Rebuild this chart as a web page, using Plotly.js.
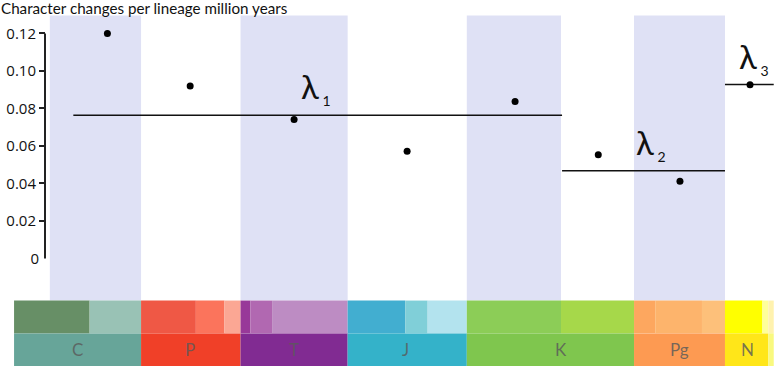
<!DOCTYPE html>
<html>
<head>
<meta charset="utf-8">
<script src="https://cdn.plot.ly/plotly-3.0.1.min.js"></script>
<style>html,body{margin:0;padding:0;background:#fff}#chart{width:775px;height:366px}</style>
</head>
<body>
<div id="chart"></div>
<script>
// ---- data (ages in Ma) ----
const pointAge  = [314.8, 275.7, 226.6, 173.2, 122.2, 82.9, 44.3, 11.2];
const pointRate = [0.120, 0.0919, 0.0741, 0.0571, 0.0837, 0.0553, 0.0412, 0.0926];

const lambdaNames = ['1', '2', '3'];
const lambdaStart = [330.9, 100.0, 23.03];
const lambdaEnd   = [100.0, 23.03, 0.0];
const lambdaRate  = [0.0763, 0.0467, 0.0927];
const lambdaLabelAge = [223.0, 64.6, 15.9];

const bandStart = [342.0, 251.902, 145.0, 66.0];
const bandEnd   = [298.9, 201.3, 100.5, 23.03];

const periodNames  = ['C', 'P', 'T', 'J', 'K', 'Pg', 'N', ''];
const periodStart  = [358.9, 298.9, 251.902, 201.3, 145.0, 66.0, 23.03, 2.58];
const periodEnd    = [298.9, 251.902, 201.3, 145.0, 66.0, 23.03, 2.58, 0.0];
const periodColors = ['#67A599', '#F04028', '#812B92', '#34B2C9', '#7FC64E', '#FD9A52', '#FFE619', '#F9F97F'];
const periodLabelAge = [329.1, 275.8, 226.6, 174.2, 100.5, 44.3, 12.6, 1.3];

const epochStart  = [358.9, 323.2, 298.9, 273.01, 259.51, 251.902, 247.2, 237.0, 201.3, 174.1, 163.5, 145.0, 100.5, 66.0, 56.0, 33.9, 23.03, 5.333, 2.58];
const epochEnd    = [323.2, 298.9, 273.01, 259.51, 251.902, 247.2, 237.0, 201.3, 174.1, 163.5, 145.0, 100.5, 66.0, 56.0, 33.9, 23.03, 5.333, 2.58, 0.0];
const epochColors = ['#678F66', '#99C2B5', '#EF5845', '#FB745C', '#FBA794', '#983999', '#B168B1', '#BD8CC3', '#42AED0', '#80CFD8', '#B3E3EE', '#8CCD57', '#A6D84A', '#FDA75F', '#FDB46C', '#FDC07A', '#FFFF00', '#FFFF99', '#FFF2AE'];

const yTicks = [0.02, 0.04, 0.06, 0.08, 0.10, 0.12];
const yTickText = ['0.02', '0.04', '0.06', '0.08', '0.10', '0.12'];
const yTitle = 'Character changes per lineage million years';

// ---- geometry in value space ----
const bandTop = 0.1295, bandBottom = -0.0225, rowSplit = -0.040, rowBottom = -0.0575;
const yRange = [-0.0574, 0.1378];
const xRange = [359.4, -0.6];
const axisPos = (45 - 13) / 762;

const shapes = [];
bandStart.forEach((s, i) => shapes.push({type: 'rect', xref: 'x', yref: 'y', x0: s, x1: bandEnd[i], y0: bandBottom, y1: bandTop,
  fillcolor: '#DFE1F5', line: {width: 0}, layer: 'below'}));
epochStart.forEach((s, i) => shapes.push({type: 'rect', xref: 'x', yref: 'y', x0: s, x1: epochEnd[i], y0: rowSplit, y1: bandBottom,
  fillcolor: epochColors[i], line: {width: 0}, layer: 'below'}));
periodStart.forEach((s, i) => shapes.push({type: 'rect', xref: 'x', yref: 'y', x0: s, x1: periodEnd[i], y0: rowBottom, y1: rowSplit,
  fillcolor: periodColors[i], line: {width: 0}, layer: 'below'}));
shapes.push({type: 'line', xref: 'paper', yref: 'y', x0: axisPos, x1: axisPos, y0: 0, y1: yTicks[yTicks.length - 1],
  line: {color: '#222', width: 2}});

const traces = [];
lambdaNames.forEach((n, i) => traces.push({type: 'scatter', mode: 'lines', x: [lambdaStart[i], lambdaEnd[i]], y: [lambdaRate[i], lambdaRate[i]],
  line: {color: '#111', width: 1.6}, hoverinfo: 'skip', showlegend: false}));
traces.push({type: 'scatter', mode: 'markers', x: pointAge, y: pointRate, marker: {color: '#000', size: 7}, showlegend: false});
traces.push({type: 'scatter', mode: 'markers', x: [pointAge[0]], y: [0], yaxis: 'y2', marker: {opacity: 0}, showlegend: false, hoverinfo: 'skip'});

const annotations = [];
lambdaNames.forEach((n, i) => annotations.push({xref: 'x', yref: 'y', x: lambdaLabelAge[i], y: lambdaRate[i], xanchor: 'left', yanchor: 'bottom',
  text: 'λ<sub><span style="font-size:14px"> ' + n + '</span></sub>', showarrow: false, yshift: 4, xshift: -3,
  font: {family: 'Lato, sans-serif', size: 33, color: '#111'}}));
periodNames.forEach((n, i) => { if (n) annotations.push({xref: 'x', yref: 'y', x: periodLabelAge[i], y: (rowSplit + rowBottom) / 2,
  text: n, showarrow: false, xanchor: 'center', yanchor: 'middle', font: {family: 'Lato, sans-serif', size: 17, color: 'rgba(90,90,90,0.82)'}}); });

const layout = {
  width: 775, height: 366,
  margin: {l: 13, r: 0, t: 0, b: 0},
  paper_bgcolor: '#fff', plot_bgcolor: '#fff',
  showlegend: false,
  title: {text: yTitle, x: 0, xref: 'container', xanchor: 'left', y: 1, yref: 'container', yanchor: 'top', pad: {t: 3, l: 1},
    font: {family: 'Lato, sans-serif', size: 15.2, color: '#111'}},
  xaxis: {range: xRange, visible: false, fixedrange: true},
  yaxis: {range: yRange, anchor: 'free', position: axisPos, showgrid: false, zeroline: false, showline: false,
    ticks: 'outside', ticklen: 6, tickwidth: 2, tickcolor: '#222', tickvals: yTicks, ticktext: yTickText,
    tickfont: {family: 'Open Sans, sans-serif', size: 15, color: '#111'}},
  yaxis2: {range: yRange, overlaying: 'y', anchor: 'free', position: axisPos, side: 'left', showgrid: false, zeroline: false, showline: false,
    ticks: 'outside', ticklen: 3, tickcolor: 'rgba(0,0,0,0)', tickvals: [0], ticktext: ['0'],
    tickfont: {family: 'Open Sans, sans-serif', size: 15, color: '#111'}},
  shapes: shapes,
  annotations: annotations
};

Plotly.newPlot('chart', traces, layout, {displayModeBar: false, staticPlot: true});
</script>
</body>
</html>
